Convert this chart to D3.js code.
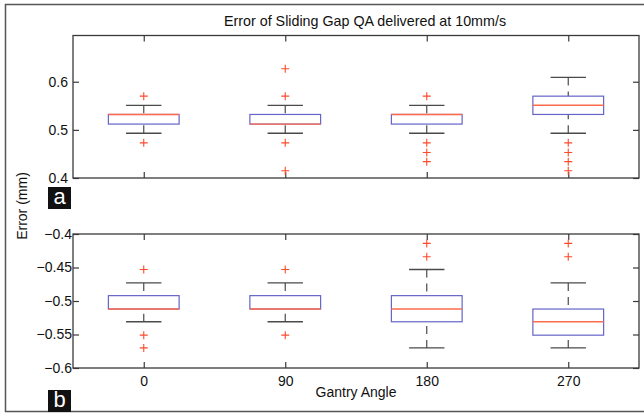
<!DOCTYPE html>
<html>
<head>
<meta charset="utf-8">
<script src="https://cdn.jsdelivr.net/npm/d3@7"></script>
<style>
	body { margin: 0; background: #fff; }
	svg { display: block; font-family: "Liberation Sans", Arial, Helvetica, sans-serif; }
</style>
</head>
<body>
<svg id="chart" width="644" height="414"></svg>
<script>
// Gantry angles (categories)
var angles = [0, 90, 180, 270];

// Panel a: positive error (mm)
var aLow = [0.493, 0.493, 0.493, 0.493];
var aQ1 = [0.512, 0.512, 0.512, 0.532];
var aMed = [0.532, 0.512, 0.532, 0.551];
var aQ3 = [0.532, 0.532, 0.532, 0.570];
var aHigh = [0.551, 0.551, 0.551, 0.609];
var aOut = [
	[0.570, 0.473],
	[0.627, 0.570, 0.473, 0.415],
	[0.570, 0.473, 0.453, 0.434],
	[0.473, 0.453, 0.434, 0.415]
];

// Panel b: negative error (mm)
var bLow = [-0.531, -0.531, -0.570, -0.570];
var bQ1 = [-0.512, -0.512, -0.531, -0.551];
var bMed = [-0.512, -0.512, -0.512, -0.531];
var bQ3 = [-0.492, -0.492, -0.492, -0.512];
var bHigh = [-0.473, -0.473, -0.453, -0.473];
var bOut = [
	[-0.453, -0.551, -0.570],
	[-0.453, -0.551],
	[-0.414, -0.434],
	[-0.414, -0.434]
];

// Tick values and labels
var aTicks = [0.4, 0.5, 0.6];
var aTickLabels = ['0.4', '0.5', '0.6'];
var bTicks = [-0.6, -0.55, -0.5, -0.45, -0.4];
var bTickLabels = ['\u22120.6', '\u22120.55', '\u22120.5', '\u22120.45', '\u22120.4'];
var xTickLabels = ['0', '90', '180', '270'];

var svg = d3.select('#chart');
var frameColor = '#3a3a3a';

// outer figure border (cut off on the right)
svg.append('rect')
	.attr('x', 5.5).attr('y', 4.5)
	.attr('width', 660).attr('height', 407)
	.attr('fill', 'none')
	.attr('stroke', '#555')
	.attr('stroke-width', 1.5);

var x = d3.scalePoint()
	.domain(angles)
	.range([73, 639])
	.padding(0.5);

var boxW = x.step() * 0.5;
var capW = x.step() * 0.25;

function rows(low, q1, med, q3, high, out) {
	return angles.map(function(a, i) {
		return { angle: a, low: low[i], q1: q1[i], med: med[i], q3: q3[i], high: high[i], out: out[i] };
	});
}

function drawPanel(opts) {
	var y = d3.scaleLinear().domain(opts.domain).range([opts.bottom, opts.top]);
	var g = svg.append('g');

	// axes: ticks point inward on all four sides
	g.append('g')
		.attr('transform', 'translate(' + x.range()[0] + ',0)')
		.call(d3.axisLeft(y).tickValues(opts.ticks).tickSize(-6).tickPadding(opts.labelPad)
			.tickFormat(function(d, i) { return opts.labels[i]; }));
	g.append('g')
		.attr('transform', 'translate(' + x.range()[1] + ',0)')
		.call(d3.axisRight(y).tickValues(opts.ticks).tickSize(-6).tickFormat(''));
	g.append('g')
		.attr('transform', 'translate(0,' + opts.top + ')')
		.call(d3.axisTop(x).tickSize(-6).tickFormat(''));
	g.append('g')
		.attr('transform', 'translate(0,' + opts.bottom + ')')
		.call(d3.axisBottom(x).tickSize(-6).tickPadding(8)
			.tickFormat(function(d, i) { return opts.xLabels ? xTickLabels[i] : ''; }));

	g.selectAll('.domain').remove();
	g.selectAll('.tick line').attr('stroke', frameColor).attr('stroke-width', 1.2);
	g.selectAll('.tick text')
		.attr('fill', '#111')
		.style('font-size', '14px');

	g.append('rect')
		.attr('x', x.range()[0]).attr('y', opts.top)
		.attr('width', x.range()[1] - x.range()[0])
		.attr('height', opts.bottom - opts.top)
		.attr('fill', 'none')
		.attr('stroke', frameColor)
		.attr('stroke-width', 1.3);

	var box = g.selectAll('g.box')
		.data(opts.data)
		.enter().append('g')
		.attr('class', 'box')
		.attr('transform', function(d) { return 'translate(' + x(d.angle) + ',0)'; });

	// dashed whiskers, drawn from the cap toward the box
	box.append('line')
		.attr('y1', function(d) { return y(d.high); })
		.attr('y2', function(d) { return y(d.q3); })
		.attr('stroke', '#4a4a4a').attr('stroke-width', 1.2)
		.attr('stroke-dasharray', '8,6');
	box.append('line')
		.attr('y1', function(d) { return y(d.low); })
		.attr('y2', function(d) { return y(d.q1); })
		.attr('stroke', '#4a4a4a').attr('stroke-width', 1.2)
		.attr('stroke-dasharray', '8,6');

	// caps
	box.selectAll('line.cap')
		.data(function(d) { return [d.low, d.high]; })
		.enter().append('line')
		.attr('class', 'cap')
		.attr('x1', -capW / 2).attr('x2', capW / 2)
		.attr('y1', function(v) { return y(v); })
		.attr('y2', function(v) { return y(v); })
		.attr('stroke', '#4a4a4a').attr('stroke-width', 1.3);

	box.append('rect')
		.attr('x', -boxW / 2)
		.attr('y', function(d) { return y(d.q3); })
		.attr('width', boxW)
		.attr('height', function(d) { return y(d.q1) - y(d.q3); })
		.attr('fill', 'none')
		.attr('stroke', '#6464c8').attr('stroke-width', 1.2);

	box.append('line')
		.attr('x1', -boxW / 2).attr('x2', boxW / 2)
		.attr('y1', function(d) { return y(d.med); })
		.attr('y2', function(d) { return y(d.med); })
		.attr('stroke', '#ff6a4a').attr('stroke-width', 1.4);

	box.selectAll('path.outlier')
		.data(function(d) { return d.out; })
		.enter().append('path')
		.attr('class', 'outlier')
		.attr('d', function(v) { var cy = y(v); return 'M-4,' + cy + 'H4M0,' + (cy - 4) + 'V' + (cy + 4); })
		.attr('stroke', '#ff4a2a').attr('stroke-width', 1.1)
		.attr('fill', 'none');

	// panel letter
	svg.append('rect')
		.attr('x', 48).attr('y', opts.tagY)
		.attr('width', 23).attr('height', 22)
		.attr('fill', '#111');
	svg.append('text')
		.attr('x', 59.5).attr('y', opts.tagY + 17)
		.attr('text-anchor', 'middle')
		.attr('fill', '#fff')
		.style('font-size', '22px')
		.text(opts.tag);
}

drawPanel({
	domain: [0.4, 0.696], top: 35.5, bottom: 178,
	ticks: aTicks, labels: aTickLabels, labelPad: 5,
	data: rows(aLow, aQ1, aMed, aQ3, aHigh, aOut),
	xLabels: false, tag: 'a', tagY: 187
});

drawPanel({
	domain: [-0.6, -0.4], top: 234, bottom: 368,
	ticks: bTicks, labels: bTickLabels, labelPad: 1,
	data: rows(bLow, bQ1, bMed, bQ3, bHigh, bOut),
	xLabels: true, tag: 'b', tagY: 390
});

// titles
svg.append('text')
	.attr('x', 365).attr('y', 26)
	.attr('text-anchor', 'middle')
	.attr('fill', '#111')
	.style('font-size', '14.3px')
	.text('Error of Sliding Gap QA delivered at 10mm/s');

svg.append('text')
	.attr('x', 356).attr('y', 397)
	.attr('text-anchor', 'middle')
	.attr('fill', '#111')
	.style('font-size', '14px')
	.text('Gantry Angle');

svg.append('text')
	.attr('transform', 'translate(27,206) rotate(-90)')
	.attr('text-anchor', 'middle')
	.attr('fill', '#111')
	.style('font-size', '14px')
	.text('Error (mm)');
</script>
</body>
</html>
